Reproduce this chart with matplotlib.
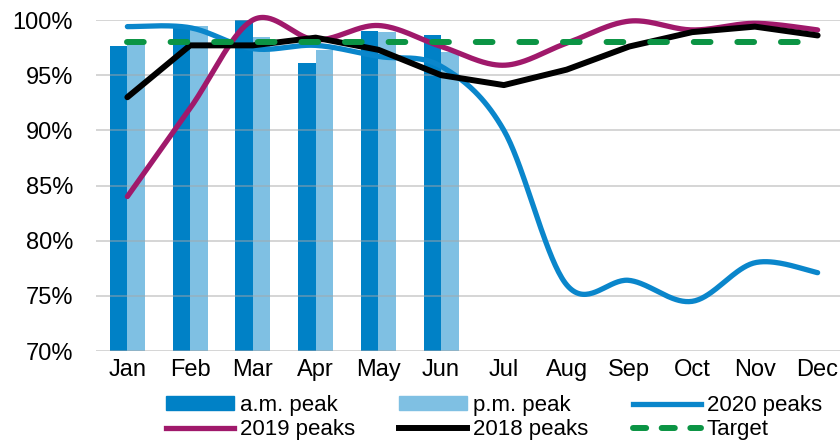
import numpy as np
import matplotlib
matplotlib.use("Agg")
import matplotlib.pyplot as plt
from matplotlib.patches import Patch
from matplotlib.lines import Line2D

plt.rcParams['font.family'] = ['Liberation Sans', 'DejaVu Sans']

months = ['Jan', 'Feb', 'Mar', 'Apr', 'May', 'Jun',
          'Jul', 'Aug', 'Sep', 'Oct', 'Nov', 'Dec']

# bar data (only Jan-Jun reported)
am_peak = [97.6, 99.3, 100.0, 96.1, 99.0, 98.6]
pm_peak = [97.9, 99.5, 98.5, 97.3, 98.9, 97.1]

# line data
peaks_2020 = [99.4, 99.3, 97.4, 97.7, 96.7, 95.8, 90.0, 76.0, 76.4, 74.5, 78.0, 77.1]
peaks_2019 = [84.0, 92.0, 100.0, 98.2, 99.5, 97.6, 95.9, 97.9, 99.9, 99.1, 99.7, 99.1]
peaks_2018 = [93.0, 97.7, 97.7, 98.4, 97.3, 95.0, 94.1, 95.5, 97.6, 98.9, 99.4, 98.6]
target = [98.0] * 12

AM_BLUE = '#0081C6'
PM_BLUE = '#7FC0E3'
BLUE_2020 = '#0A86CB'
PURPLE = '#A0196B'
GREEN = '#0B9444'


def smooth(y, n=40):
    """Bezier smoothing through each point (Catmull-Rom style control points)."""
    y = np.asarray(y, dtype=float)
    x = np.arange(len(y), dtype=float)
    xs, ys = [], []
    for i in range(len(y) - 1):
        i0, i3 = max(i - 1, 0), min(i + 2, len(y) - 1)
        p0, p1, p2, p3 = [np.array([x[k], y[k]]) for k in (i0, i, i + 1, i3)]
        c1 = p1 + (p2 - p0) / 6
        c2 = p2 - (p3 - p1) / 6
        t = np.linspace(0, 1, n)[:, None]
        b = ((1 - t) ** 3) * p1 + 3 * ((1 - t) ** 2) * t * c1 + 3 * (1 - t) * t ** 2 * c2 + t ** 3 * p2
        xs.append(b[:, 0])
        ys.append(b[:, 1])
    return np.concatenate(xs), np.concatenate(ys)


fig = plt.figure(figsize=(8.4, 4.42), dpi=100)
ax = fig.add_axes([96 / 840, 1 - 351 / 442, 753 / 840, 331 / 442])

xb = np.arange(len(am_peak))
w = 0.28
ax.bar(xb - w / 2, am_peak, width=w, color=AM_BLUE, zorder=1)
ax.bar(xb + w / 2, pm_peak, width=w, color=PM_BLUE, zorder=1)

x20, y20 = smooth(peaks_2020)
ax.plot(x20, y20, color=BLUE_2020, lw=3.8, zorder=3, clip_on=False,
        solid_capstyle='round')
x19, y19 = smooth(peaks_2019)
ax.plot(x19, y19, color=PURPLE, lw=3.8, zorder=4, clip_on=False,
        solid_capstyle='round')
ax.plot(np.arange(12), peaks_2018, color='black', lw=4.3, zorder=5,
        clip_on=False, solid_capstyle='round', solid_joinstyle='round')
ax.plot(np.arange(12), target, color=GREEN, lw=4.3, zorder=6,
        dashes=(2.8, 4.5), dash_capstyle='round', clip_on=False)

ax.set_xlim(-0.5, 11.5)
ax.set_ylim(70, 100)
ax.set_yticks(np.arange(70, 101, 5))
ax.set_yticklabels([f'{v}%' for v in range(70, 101, 5)])
ax.set_xticks(np.arange(12))
ax.set_xticklabels(months)

ax.set_axisbelow(False)
ax.yaxis.grid(True, color='#A6A6A6', alpha=0.5, lw=1.3, zorder=2)
for s in ax.spines.values():
    s.set_visible(False)
ax.tick_params(axis='both', length=0, labelsize=17, colors='black')
ax.tick_params(axis='y', pad=16.5)
ax.tick_params(axis='x', pad=6)

handles = [
    Patch(color=AM_BLUE),
    Line2D([], [], color=PURPLE, lw=3.8),
    Patch(color=PM_BLUE),
    Line2D([], [], color='black', lw=4.3),
    Line2D([], [], color=BLUE_2020, lw=3.8),
    Line2D([], [], color=GREEN, lw=4.3, dashes=(2.2, 2.6), dash_capstyle='round'),
]
labels = ['a.m. peak', '2019 peaks', 'p.m. peak', '2018 peaks', '2020 peaks', 'Target']
fig.legend(handles, labels, ncol=3, loc='upper left',
           bbox_to_anchor=(166 / 840, 1 - 395 / 442), frameon=False,
           fontsize=16, handlelength=3.05, handleheight=0.55,
           handletextpad=0.27, columnspacing=2.0, labelspacing=0.15,
           borderpad=0, borderaxespad=0)

fig.savefig('out.png', dpi=100)
